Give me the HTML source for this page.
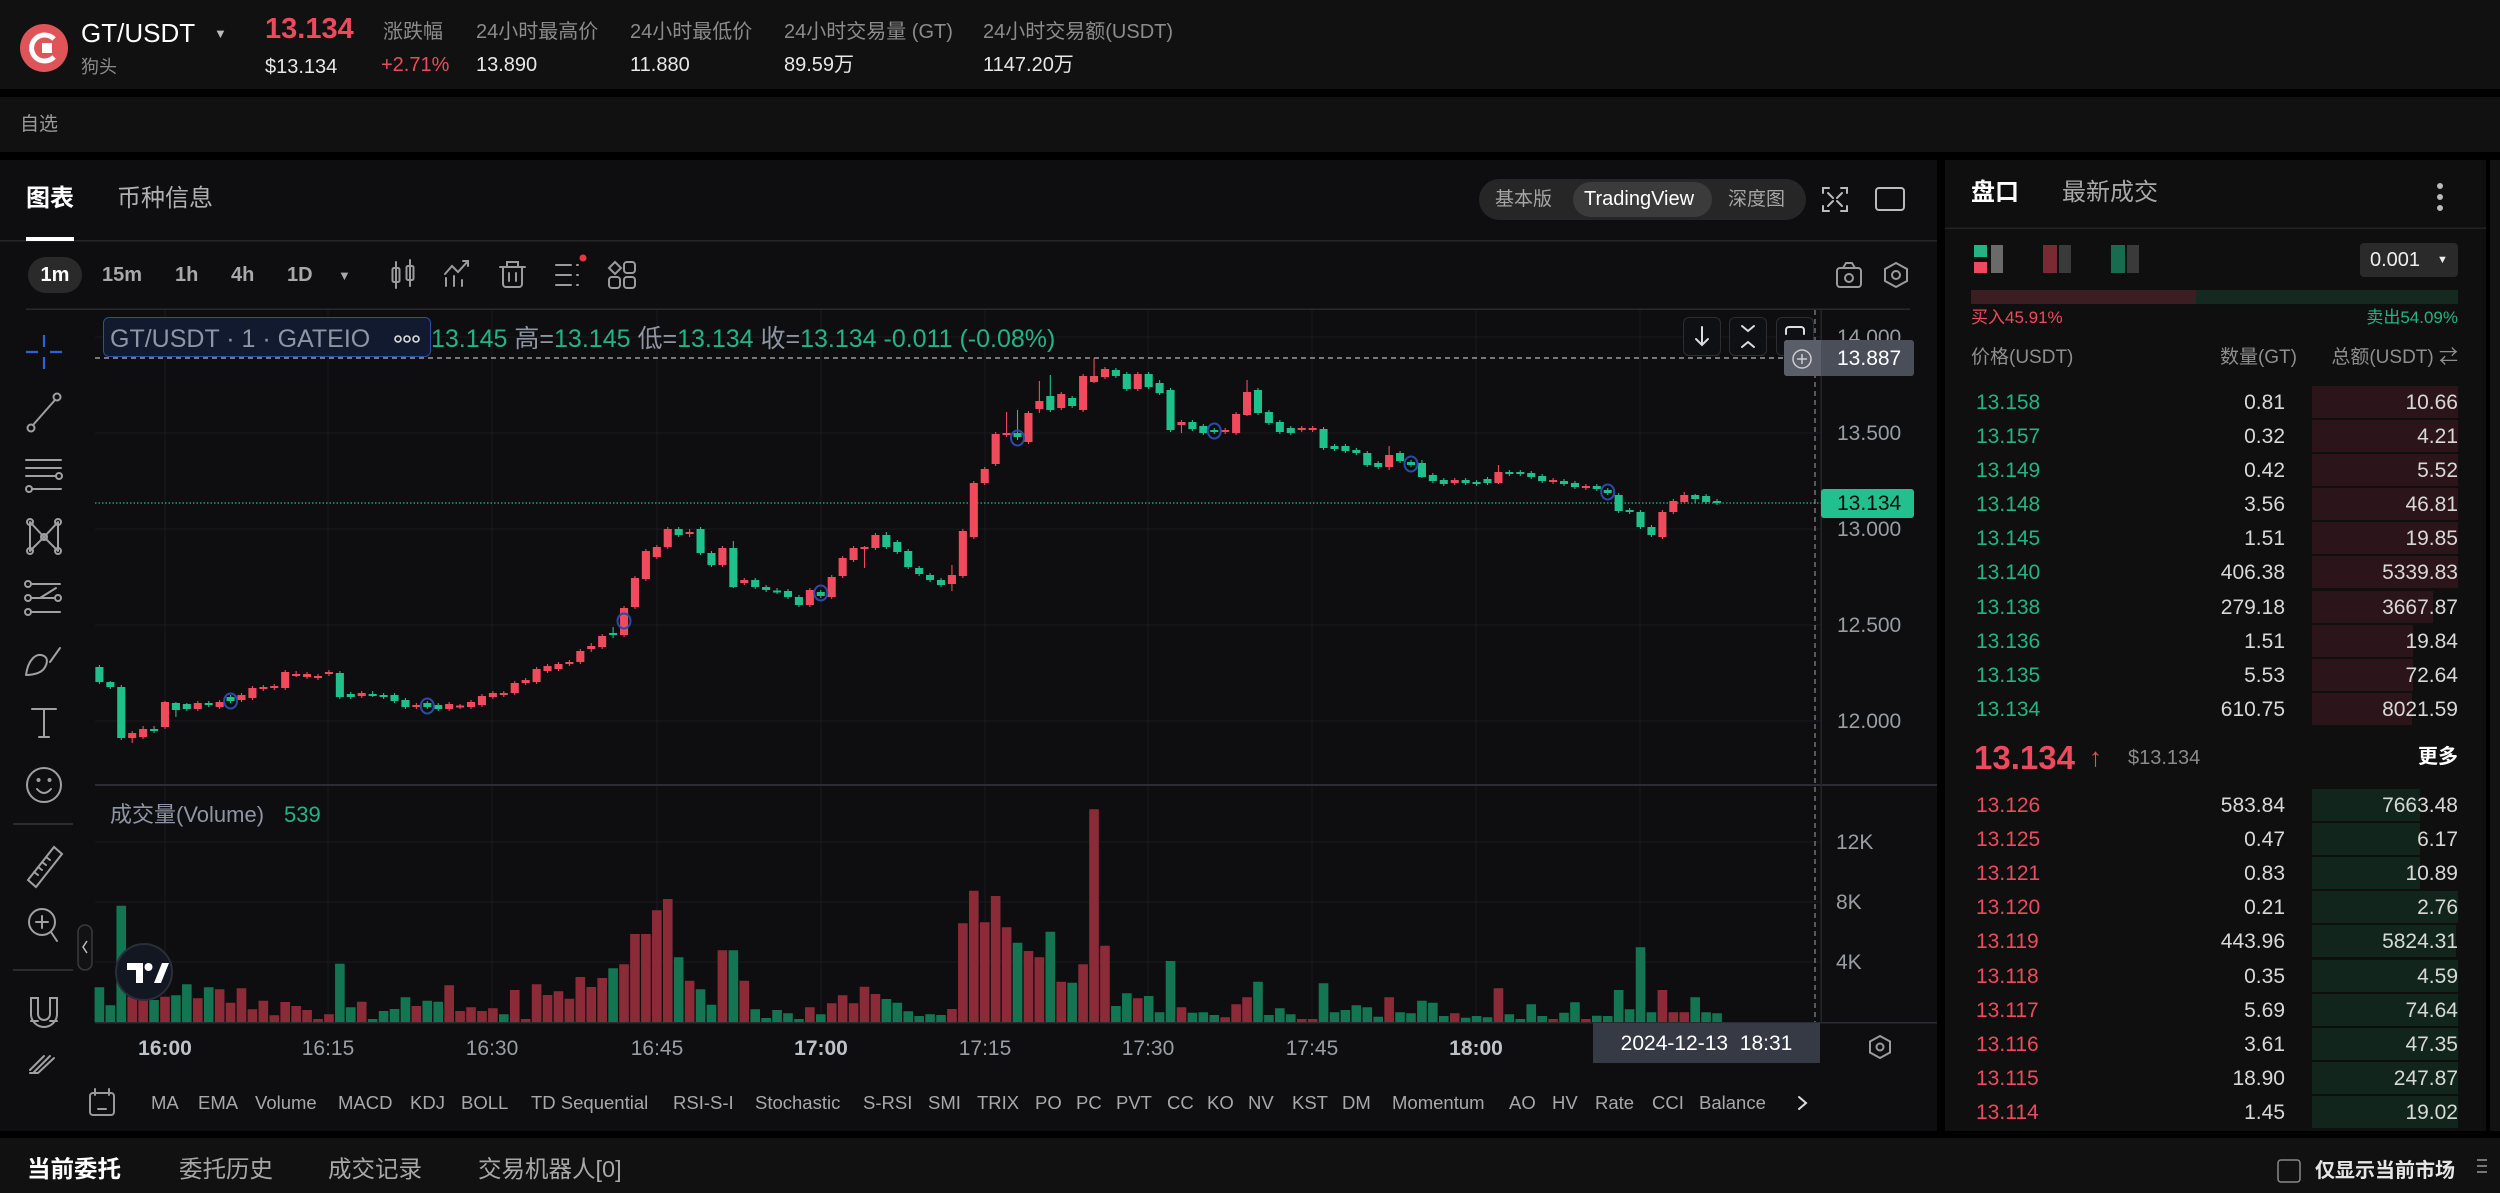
<!DOCTYPE html>
<html><head><meta charset="utf-8">
<style>
*{margin:0;padding:0;box-sizing:border-box}
html,body{width:2500px;height:1193px;overflow:hidden;background:#000}
body{position:relative;font-family:"Liberation Sans","Noto Sans CJK SC",sans-serif}
.b{position:absolute}
.t{position:absolute;white-space:nowrap;line-height:1}
.g{color:#22b583}.rd{color:#ee4a5d}.gy{color:#8e95a4}
.ax{font-size:21px;color:#9b9da5}
.ind{font-size:18.5px;color:#a8a8a8;top:1094px}
.ob{font-size:21px;line-height:1}
.q{color:#d8d8d8}
.tm{width:100px;text-align:center;top:1038px;font-size:21px;color:#9b9da5}
</style></head><body>
<!-- backgrounds -->
<div class="b" style="left:0;top:0;width:2500px;height:89px;background:#111111"></div>
<div class="b" style="left:0;top:97px;width:2500px;height:55px;background:#111111"></div>
<div class="b" style="left:0;top:160px;width:1937px;height:971px;background:#0e0e10"></div>
<div class="b" style="left:1945px;top:160px;width:541px;height:971px;background:#0f0f0f"></div>
<div class="b" style="left:2490px;top:160px;width:10px;height:971px;background:#121212"></div>
<div class="b" style="left:0;top:1138px;width:2500px;height:55px;background:#111111"></div>
<!-- segmented control -->
<div class="b" style="left:1479px;top:179px;width:327px;height:41px;background:#262626;border-radius:21px"></div>
<div class="b" style="left:1573px;top:182px;width:139px;height:35px;background:#3b3b3b;border-radius:18px"></div>
<div class="b" style="left:28px;top:257px;width:54px;height:36px;background:#2a2a2a;border-radius:18px"></div>
<!-- orderbook bars -->
<div class="b" style="left:2360px;top:243px;width:98px;height:34px;background:#2a2a2a;border-radius:4px"></div>
<div class="b" style="left:1971px;top:290px;width:225px;height:14px;background:#3b1d22"></div>
<div class="b" style="left:2196px;top:290px;width:262px;height:14px;background:#14291f"></div>
<div class="b" style="left:2312px;top:386px;width:146px;height:32px;background:#2b151a"></div>
<div class="b" style="left:2312px;top:420px;width:146px;height:32px;background:#2b151a"></div>
<div class="b" style="left:2312px;top:454px;width:146px;height:32px;background:#2b151a"></div>
<div class="b" style="left:2312px;top:488px;width:146px;height:32px;background:#2b151a"></div>
<div class="b" style="left:2312px;top:522px;width:146px;height:32px;background:#2b151a"></div>
<div class="b" style="left:2312px;top:556px;width:146px;height:32px;background:#2b151a"></div>
<div class="b" style="left:2312px;top:591px;width:121px;height:32px;background:#2b151a"></div>
<div class="b" style="left:2312px;top:625px;width:101px;height:32px;background:#2b151a"></div>
<div class="b" style="left:2312px;top:659px;width:101px;height:32px;background:#2b151a"></div>
<div class="b" style="left:2312px;top:693px;width:100px;height:32px;background:#2b151a"></div>
<div class="b" style="left:2312px;top:789px;width:108px;height:32px;background:#11251d"></div>
<div class="b" style="left:2312px;top:823px;width:108px;height:32px;background:#11251d"></div>
<div class="b" style="left:2312px;top:857px;width:108px;height:32px;background:#11251d"></div>
<div class="b" style="left:2312px;top:891px;width:146px;height:32px;background:#11251d"></div>
<div class="b" style="left:2312px;top:925px;width:144px;height:32px;background:#11251d"></div>
<div class="b" style="left:2312px;top:960px;width:146px;height:32px;background:#11251d"></div>
<div class="b" style="left:2312px;top:994px;width:146px;height:32px;background:#11251d"></div>
<div class="b" style="left:2312px;top:1028px;width:146px;height:32px;background:#11251d"></div>
<div class="b" style="left:2312px;top:1062px;width:146px;height:32px;background:#11251d"></div>
<div class="b" style="left:2312px;top:1096px;width:146px;height:32px;background:#11251d"></div>

<svg class="b" style="left:0;top:0" width="2500" height="1193" viewBox="0 0 2500 1193">
<!-- logo -->
<circle cx="44" cy="48" r="24" fill="#de5459"/>
<path d="M54 39 A13 13 0 1 0 54 57" fill="none" stroke="#fff" stroke-width="5"/>
<rect x="42" y="43" width="10" height="10" fill="#fff"/>
<!-- separators -->
<rect x="0" y="240" width="1937" height="1.5" fill="#252527"/>
<rect x="26" y="237" width="48" height="4" fill="#fff"/>
<rect x="26" y="308.5" width="1884" height="1.5" fill="#2a2a2e"/>
<rect x="1945" y="227.5" width="541" height="1.5" fill="#232323"/>
<!-- grid -->
<g stroke="#1a1b20" stroke-width="1">
<path d="M95 337H1821M95 433H1821M95 529H1821M95 625H1821M95 721H1821M95 842H1821M95 902H1821M95 962H1821"/>
<path d="M165 310V1022M328 310V1022M492 310V1022M657 310V1022M821 310V1022M985 310V1022M1148 310V1022M1312 310V1022M1476 310V1022M1640 310V1022"/>
</g>
<rect x="95" y="784" width="1842" height="2" fill="#2b2c35"/>
<rect x="95" y="1022" width="1842" height="1.5" fill="#2a2b33"/>
<rect x="1820.5" y="310" width="1.5" height="713" fill="#24252c"/>
<!-- volume -->
<g transform="translate(99.4 0) scale(10.93 1)">
<path fill="#8c2b38" d="M2.56 996.7h.88V1022h-.88zM3.56 1000h.88V1022h-.88zM5.56 996.7h.88V1022h-.88zM8.56 998.3h.88V1022h-.88zM10.56 989.3h.88V1022h-.88zM11.56 1002.7h.88V1022h-.88zM12.56 988.3h.88V1022h-.88zM13.56 1009.3h.88V1022h-.88zM14.56 1000.7h.88V1022h-.88zM15.56 1015.3h.88V1022h-.88zM16.56 1002h.88V1022h-.88zM17.56 1006h.88V1022h-.88zM18.56 1010h.88V1022h-.88zM19.56 1019h.88V1022h-.88zM20.56 1014.3h.88V1022h-.88zM23.56 1001.7h.88V1022h-.88zM28.56 1006h.88V1022h-.88zM31.56 985.3h.88V1022h-.88zM32.56 1011h.88V1022h-.88zM33.56 1007.3h.88V1022h-.88zM34.56 1011h.88V1022h-.88zM35.56 1008.3h.88V1022h-.88zM37.56 990h.88V1022h-.88zM38.56 1019h.88V1022h-.88zM39.56 984.3h.88V1022h-.88zM40.56 995h.88V1022h-.88zM41.56 991.3h.88V1022h-.88zM42.56 998.7h.88V1022h-.88zM43.56 977h.88V1022h-.88zM44.56 987h.88V1022h-.88zM45.56 978h.88V1022h-.88zM47.56 964.3h.88V1022h-.88zM48.56 934h.88V1022h-.88zM49.56 934h.88V1022h-.88zM50.56 910.3h.88V1022h-.88zM51.56 899h.88V1022h-.88zM53.56 980.7h.88V1022h-.88zM56.56 950.3h.88V1022h-.88zM58.56 980.7h.88V1022h-.88zM64.56 1007.3h.88V1022h-.88zM66.56 1003.3h.88V1022h-.88zM67.56 995.3h.88V1022h-.88zM68.56 1003.3h.88V1022h-.88zM69.56 986.7h.88V1022h-.88zM70.56 994h.88V1022h-.88zM77.56 1009h.88V1022h-.88zM78.56 923.3h.88V1022h-.88zM79.56 890.7h.88V1022h-.88zM80.56 922.3h.88V1022h-.88zM81.56 896h.88V1022h-.88zM82.56 927.3h.88V1022h-.88zM84.56 951h.88V1022h-.88zM85.56 957.3h.88V1022h-.88zM87.56 981.7h.88V1022h-.88zM89.56 964.3h.88V1022h-.88zM90.56 809.3h.88V1022h-.88zM91.56 945.7h.88V1022h-.88zM94.56 998.3h.88V1022h-.88zM98.56 1007.3h.88V1022h-.88zM102.56 1017.3h.88V1022h-.88zM103.56 1004.3h.88V1022h-.88zM104.56 997.3h.88V1022h-.88zM109.56 1019h.88V1022h-.88zM110.56 1019h.88V1022h-.88zM117.56 997.3h.88V1022h-.88zM123.56 1013.3h.88V1022h-.88zM127.56 988.3h.88V1022h-.88zM132.56 1019h.88V1022h-.88zM135.56 1019h.88V1022h-.88zM142.56 990h.88V1022h-.88zM143.56 1012.3h.88V1022h-.88zM144.56 1012.3h.88V1022h-.88z"/>
<path fill="#137552" d="M-.44 987.3h.88V1022h-.88zM.56 1005.3h.88V1022h-.88zM1.56 905.7h.88V1022h-.88zM4.56 1000h.88V1022h-.88zM6.56 995.3h.88V1022h-.88zM7.56 984.3h.88V1022h-.88zM9.56 987.3h.88V1022h-.88zM21.56 963.7h.88V1022h-.88zM22.56 1007.3h.88V1022h-.88zM24.56 1019h.88V1022h-.88zM25.56 1011h.88V1022h-.88zM26.56 1009h.88V1022h-.88zM27.56 997.3h.88V1022h-.88zM29.56 1000.7h.88V1022h-.88zM30.56 1001.7h.88V1022h-.88zM36.56 1014.3h.88V1022h-.88zM46.56 968.3h.88V1022h-.88zM52.56 957.3h.88V1022h-.88zM54.56 989.3h.88V1022h-.88zM55.56 1004.7h.88V1022h-.88zM57.56 950.3h.88V1022h-.88zM59.56 1009.3h.88V1022h-.88zM60.56 1018h.88V1022h-.88zM61.56 1010h.88V1022h-.88zM62.56 1013.3h.88V1022h-.88zM63.56 1019h.88V1022h-.88zM65.56 1014.3h.88V1022h-.88zM71.56 999h.88V1022h-.88zM72.56 1002.7h.88V1022h-.88zM73.56 1011.3h.88V1022h-.88zM74.56 1016h.88V1022h-.88zM75.56 1014.3h.88V1022h-.88zM76.56 1015h.88V1022h-.88zM83.56 942.7h.88V1022h-.88zM86.56 931.7h.88V1022h-.88zM88.56 982.7h.88V1022h-.88zM92.56 1006h.88V1022h-.88zM93.56 993.3h.88V1022h-.88zM95.56 996h.88V1022h-.88zM96.56 1012.3h.88V1022h-.88zM97.56 961h.88V1022h-.88zM99.56 1012.7h.88V1022h-.88zM100.56 1012.3h.88V1022h-.88zM101.56 1015h.88V1022h-.88zM105.56 981.7h.88V1022h-.88zM106.56 1015h.88V1022h-.88zM107.56 1008.3h.88V1022h-.88zM108.56 1014.3h.88V1022h-.88zM111.56 983.3h.88V1022h-.88zM112.56 1012.3h.88V1022h-.88zM113.56 1010h.88V1022h-.88zM114.56 1005.3h.88V1022h-.88zM115.56 1007.3h.88V1022h-.88zM116.56 1016.7h.88V1022h-.88zM118.56 1012.3h.88V1022h-.88zM119.56 1013.3h.88V1022h-.88zM120.56 1000.7h.88V1022h-.88zM121.56 1002.7h.88V1022h-.88zM122.56 1016h.88V1022h-.88zM124.56 1017.7h.88V1022h-.88zM125.56 1016h.88V1022h-.88zM126.56 1017.3h.88V1022h-.88zM128.56 1014.3h.88V1022h-.88zM129.56 1019h.88V1022h-.88zM130.56 1004.3h.88V1022h-.88zM131.56 1016h.88V1022h-.88zM133.56 1012.7h.88V1022h-.88zM134.56 1002.3h.88V1022h-.88zM136.56 1015.7h.88V1022h-.88zM137.56 1016h.88V1022h-.88zM138.56 990h.88V1022h-.88zM139.56 1009.3h.88V1022h-.88zM140.56 947.3h.88V1022h-.88zM141.56 1012.3h.88V1022h-.88zM145.56 997.3h.88V1022h-.88zM146.56 1012.3h.88V1022h-.88zM147.56 1013.3h.88V1022h-.88z"/>
</g>
<!-- lines -->
<path d="M95 358H1784" stroke="#9a9a9a" stroke-width="1.5" stroke-dasharray="5 4"/>
<path d="M95 503H1821" stroke="#1f9c77" stroke-width="1.5" stroke-dasharray="1.5 2"/>
<path d="M1815 310V1022" stroke="#8a8a8a" stroke-width="1.2" stroke-dasharray="5 4"/>
<!-- candles -->
<g transform="translate(99.4 0) scale(10.93 1)">
<path fill="#f04a5d" d="M2.95 731h.1V743h-.1zM2.63 733h.74V738h-.74zM3.95 726h.1V739h-.1zM3.63 729h.74V737h-.74zM5.95 701h.1V729h-.1zM5.63 702h.74V727h-.74zM8.95 701h.1V711h-.1zM8.63 703h.74V709h-.74zM10.95 700h.1V709h-.1zM10.63 702h.74V707h-.74zM12.95 693h.1V702h-.1zM12.63 695h.74V700h-.74zM13.95 686h.1V700h-.1zM13.63 688h.74V698h-.74zM14.95 685h.1V691h-.1zM14.63 687h.74V689h-.74zM15.95 684h.1V690h-.1zM15.63 686h.74V688h-.74zM16.95 670h.1V690h-.1zM16.63 672h.74V688h-.74zM17.95 671h.1V677h-.1zM17.63 674h.74V676h-.74zM18.95 672h.1V679h-.1zM18.63 674h.74V677h-.74zM19.95 674h.1V680h-.1zM19.63 676h.74V678h-.74zM20.95 670h.1V676h-.1zM20.63 672h.74V674h-.74zM23.95 691h.1V698h-.1zM23.63 693h.74V696h-.74zM28.95 703h.1V709h-.1zM28.63 705h.74V707h-.74zM31.95 702h.1V711h-.1zM31.63 704h.74V709h-.74zM32.95 704h.1V709h-.1zM32.63 705.5h.74V707.5h-.74zM33.95 700h.1V709h-.1zM33.63 702h.74V707h-.74zM34.95 694h.1V707h-.1zM34.63 696h.74V705h-.74zM35.95 691h.1V699h-.1zM35.63 693h.74V697h-.74zM36.95 691h.1V697h-.1zM36.63 693h.74V695h-.74zM37.95 681h.1V695h-.1zM37.63 683h.74V693h-.74zM38.95 678h.1V685h-.1zM38.63 680h.74V683h-.74zM39.95 667h.1V684h-.1zM39.63 669h.74V682h-.74zM40.95 664h.1V673h-.1zM40.63 666h.74V671h-.74zM41.95 662h.1V671h-.1zM41.63 664h.74V669h-.74zM42.95 660h.1V666h-.1zM42.63 662h.74V664h-.74zM43.95 649h.1V664h-.1zM43.63 651h.74V662h-.74zM44.95 643h.1V652h-.1zM44.63 646h.74V649h-.74zM45.95 634h.1V649h-.1zM45.63 636h.74V647h-.74zM47.95 606h.1V637h-.1zM47.63 608h.74V635h-.74zM48.95 576h.1V609h-.1zM48.63 578h.74V607h-.74zM49.95 549h.1V581h-.1zM49.63 551h.74V579h-.74zM50.95 545h.1V559h-.1zM50.63 547h.74V557h-.74zM51.95 527h.1V549h-.1zM51.63 529h.74V547h-.74zM53.95 529h.1V537h-.1zM53.63 532h.74V534h-.74zM56.95 546h.1V567h-.1zM56.63 548h.74V565h-.74zM58.95 578h.1V585h-.1zM58.63 580h.74V583h-.74zM64.95 588h.1V607h-.1zM64.63 590h.74V605h-.74zM66.95 575h.1V599h-.1zM66.63 577h.74V597h-.74zM67.95 556h.1V578h-.1zM67.63 558h.74V576h-.74zM68.95 546h.1V562h-.1zM68.63 548h.74V560h-.74zM69.95 546h.1V568h-.1zM69.63 547h.74V549h-.74zM70.95 533h.1V550h-.1zM70.63 535h.74V548h-.74zM77.95 565h.1V591h-.1zM77.63 575h.74V584h-.74zM78.95 529h.1V578h-.1zM78.63 531h.74V576h-.74zM79.95 481h.1V539h-.1zM79.63 483h.74V537h-.74zM80.95 467h.1V485h-.1zM80.63 469h.74V483h-.74zM81.95 432h.1V466h-.1zM81.63 434h.74V464h-.74zM82.95 412h.1V437h-.1zM82.63 433h.74V435h-.74zM84.95 411h.1V444h-.1zM84.63 413h.74V442h-.74zM85.95 381h.1V413h-.1zM85.63 401h.74V409h-.74zM87.95 392h.1V410h-.1zM87.63 394h.74V408h-.74zM89.95 374h.1V412h-.1zM89.63 376h.74V410h-.74zM90.95 358h.1V383h-.1zM90.63 376h.74V382h-.74zM91.95 367h.1V379h-.1zM91.63 369h.74V377h-.74zM94.95 372h.1V391h-.1zM94.63 374h.74V389h-.74zM98.95 420h.1V433h-.1zM98.63 422h.74V425h-.74zM102.95 428h.1V434h-.1zM102.63 430h.74V432h-.74zM103.95 412h.1V435h-.1zM103.63 414h.74V433h-.74zM104.95 380h.1V416h-.1zM104.63 392h.74V415h-.74zM109.95 426h.1V432h-.1zM109.63 428h.74V430h-.74zM110.95 426h.1V432h-.1zM110.63 428h.74V430h-.74zM117.95 446h.1V470h-.1zM117.63 455h.74V467h-.74zM123.95 478h.1V485h-.1zM123.63 480h.74V483h-.74zM127.95 465h.1V484h-.1zM127.63 472h.74V483h-.74zM132.95 478h.1V484h-.1zM132.63 480h.74V482h-.74zM135.95 484h.1V490h-.1zM135.63 486h.74V488h-.74zM142.95 510h.1V539h-.1zM142.63 512h.74V537h-.74zM143.95 499h.1V514h-.1zM143.63 501h.74V512h-.74zM144.95 492h.1V503h-.1zM144.63 495h.74V502h-.74z"/>
<path fill="#20c08b" d="M-.05 665h.1V684h-.1zM-.37 667h.74V682h-.74zM.95 681h.1V689h-.1zM.63 682h.74V687h-.74zM1.95 685h.1V740h-.1zM1.63 687h.74V738h-.74zM4.95 726h.1V733h-.1zM4.63 729h.74V731h-.74zM6.95 702h.1V717h-.1zM6.63 703h.74V710h-.74zM7.95 703h.1V711h-.1zM7.63 704h.74V709h-.74zM9.95 701h.1V707h-.1zM9.63 703h.74V705h-.74zM11.95 695h.1V703h-.1zM11.63 697h.74V701h-.74zM21.95 671h.1V699h-.1zM21.63 673h.74V697h-.74zM22.95 692h.1V699h-.1zM22.63 694h.74V697h-.74zM24.95 691h.1V697h-.1zM24.63 694h.74V696h-.74zM25.95 693h.1V699h-.1zM25.63 695h.74V697h-.74zM26.95 693h.1V703h-.1zM26.63 695h.74V701h-.74zM27.95 698h.1V709h-.1zM27.63 700h.74V707h-.74zM29.95 701h.1V709h-.1zM29.63 703h.74V707h-.74zM30.95 703h.1V711h-.1zM30.63 705h.74V709h-.74zM46.95 627h.1V638h-.1zM46.63 633h.74V635h-.74zM52.95 527h.1V537h-.1zM52.63 529h.74V535h-.74zM54.95 527h.1V555h-.1zM54.63 529h.74V553h-.74zM55.95 551h.1V567h-.1zM55.63 553h.74V565h-.74zM57.95 541h.1V588h-.1zM57.63 548h.74V587h-.74zM59.95 578h.1V589h-.1zM59.63 580h.74V587h-.74zM60.95 585h.1V592h-.1zM60.63 587h.74V590h-.74zM61.95 588h.1V594h-.1zM61.63 590.5h.74V592.5h-.74zM62.95 589h.1V599h-.1zM62.63 591h.74V597h-.74zM63.95 595h.1V607h-.1zM63.63 597h.74V605h-.74zM65.95 590h.1V598h-.1zM65.63 592h.74V596h-.74zM71.95 532h.1V549h-.1zM71.63 535h.74V547h-.74zM72.95 540h.1V554h-.1zM72.63 542h.74V552h-.74zM73.95 549h.1V569h-.1zM73.63 551h.74V567h-.74zM74.95 566h.1V576h-.1zM74.63 568h.74V574h-.74zM75.95 573h.1V582h-.1zM75.63 575h.74V580h-.74zM76.95 578h.1V587h-.1zM76.63 580h.74V585h-.74zM83.95 410h.1V440h-.1zM83.63 433h.74V437h-.74zM86.95 375h.1V412h-.1zM86.63 396h.74V410h-.74zM88.95 396h.1V408h-.1zM88.63 398h.74V406h-.74zM92.95 368h.1V378h-.1zM92.63 370h.74V376h-.74zM93.95 372h.1V391h-.1zM93.63 374h.74V389h-.74zM95.95 372h.1V389h-.1zM95.63 374h.74V387h-.74zM96.95 380h.1V395h-.1zM96.63 383h.74V393h-.74zM97.95 388h.1V432h-.1zM97.63 390h.74V430h-.74zM99.95 420h.1V431h-.1zM99.63 422h.74V429h-.74zM100.95 424h.1V435h-.1zM100.63 426h.74V433h-.74zM101.95 428h.1V434h-.1zM101.63 430h.74V432h-.74zM105.95 388h.1V415h-.1zM105.63 390h.74V413h-.74zM106.95 410h.1V425h-.1zM106.63 412h.74V423h-.74zM107.95 420h.1V434h-.1zM107.63 422h.74V432h-.74zM108.95 426h.1V435h-.1zM108.63 428h.74V433h-.74zM111.95 427h.1V450h-.1zM111.63 429h.74V448h-.74zM112.95 444h.1V451h-.1zM112.63 446h.74V449h-.74zM113.95 444h.1V453h-.1zM113.63 446h.74V451h-.74zM114.95 448h.1V455h-.1zM114.63 450h.74V453h-.74zM115.95 451h.1V467h-.1zM115.63 453h.74V465h-.74zM116.95 461h.1V469h-.1zM116.63 463h.74V467h-.74zM118.95 451h.1V463h-.1zM118.63 453h.74V461h-.74zM119.95 460h.1V467h-.1zM119.63 462h.74V465h-.74zM120.95 460h.1V478h-.1zM120.63 463h.74V477h-.74zM121.95 473h.1V483h-.1zM121.63 475h.74V481h-.74zM122.95 478h.1V486h-.1zM122.63 480h.74V484h-.74zM124.95 478h.1V485h-.1zM124.63 480h.74V483h-.74zM125.95 480h.1V486h-.1zM125.63 482h.74V484h-.74zM126.95 477h.1V485h-.1zM126.63 479h.74V483h-.74zM128.95 470h.1V476h-.1zM128.63 472h.74V474h-.74zM129.95 470h.1V476h-.1zM129.63 472h.74V474h-.74zM130.95 471h.1V479h-.1zM130.63 473h.74V477h-.74zM131.95 474h.1V483h-.1zM131.63 476h.74V481h-.74zM133.95 479h.1V486h-.1zM133.63 481h.74V484h-.74zM134.95 481h.1V489h-.1zM134.63 483h.74V487h-.74zM136.95 484h.1V491h-.1zM136.63 486h.74V489h-.74zM137.95 488h.1V495h-.1zM137.63 490h.74V493h-.74zM138.95 493h.1V513h-.1zM138.63 495h.74V511h-.74zM139.95 508h.1V514h-.1zM139.63 510h.74V512h-.74zM140.95 510h.1V529h-.1zM140.63 512h.74V527h-.74zM141.95 525h.1V537h-.1zM141.63 527h.74V535h-.74zM145.95 494h.1V503h-.1zM145.63 495h.74V499h-.74zM146.95 494h.1V504h-.1zM146.63 496h.74V502h-.74zM147.95 499h.1V505h-.1zM147.63 501h.74V503h-.74z"/>
</g>
<!-- markers -->
<g fill="none" stroke="#2b4aa8" stroke-width="2">
<ellipse cx="230.6" cy="701" rx="6.5" ry="7.5"/><ellipse cx="427.3" cy="706" rx="6.5" ry="7.5"/><ellipse cx="624" cy="621" rx="6.5" ry="7.5"/><ellipse cx="820.8" cy="593" rx="6.5" ry="7.5"/><ellipse cx="1017.5" cy="438" rx="6.5" ry="7.5"/><ellipse cx="1214.3" cy="431" rx="6.5" ry="7.5"/><ellipse cx="1411" cy="464" rx="6.5" ry="7.5"/><ellipse cx="1607.7" cy="492" rx="6.5" ry="7.5"/>
</g>
<!-- toolbar icons -->
<g fill="none" stroke="#9b9b9b" stroke-width="2" stroke-linecap="round">
<path d="M396 262V288M410 260V286"/><rect x="392.5" y="268" width="7" height="14" rx="1.5"/><rect x="406.5" y="266" width="7" height="14" rx="1.5"/>
<path d="M446 286V278M454 286V276M462 286V280M445 274L452 266L458 272L468 261M463 261H468V266"/>
<path d="M500 267H525M507 267V262H518V267M503 267V284a3 3 0 0 0 3 3H519a3 3 0 0 0 3-3V267M509 273V281M516 273V281"/>
<path d="M556 265H571M556 275H571M556 285H571M577 265H578M577 275H578M577 285H578"/>
<path d="M615 262L621 268L615 274L609 268Z"/><rect x="624" y="262" width="11" height="11" rx="3"/><rect x="609" y="277" width="11" height="11" rx="3"/><rect x="624" y="277" width="11" height="11" rx="3"/>
<rect x="1837" y="268" width="24" height="19" rx="3"/><path d="M1843 268L1846 263H1852L1855 268"/><circle cx="1849" cy="278" r="4"/>
<path d="M1896 263L1907 269V281L1896 287L1885 281V269Z"/><circle cx="1896" cy="275" r="4"/>
<path d="M1880 1036L1890 1041.5V1052.5L1880 1058L1870 1052.5V1041.5Z"/><circle cx="1880" cy="1047" r="3.5"/>
<path d="M1823 193V188H1829M1841 188H1847V193M1847 206V211H1841M1829 211H1823V206M1828 193L1833 198M1842 193L1837 198M1828 206L1833 201M1842 206L1837 201" stroke="#bbb"/>
<rect x="1876" y="188" width="28" height="22" rx="3" stroke="#bbb"/>
<path d="M1799 1097L1806 1103L1799 1109" stroke="#ddd"/>
<rect x="90" y="1093" width="24" height="22" rx="3" stroke="#999"/><path d="M95 1089V1095M109 1089V1095M98 1109H106" stroke="#999"/>
<circle cx="2440" cy="186" r="1.5" stroke="#bbb" stroke-width="3"/><circle cx="2440" cy="197" r="1.5" stroke="#bbb" stroke-width="3"/><circle cx="2440" cy="208" r="1.5" stroke="#bbb" stroke-width="3"/>
</g>
<circle cx="583" cy="258" r="3.5" fill="#f0343f"/>
<!-- left drawing toolbar -->
<g fill="none" stroke="#2f62d9" stroke-width="2.2"><path d="M44 335V347M44 357V369M26 352H38M50 352H62"/></g>
<g fill="none" stroke="#a0a0a0" stroke-width="2" stroke-linecap="round">
<path d="M33 425L55 400"/><circle cx="31" cy="428" r="3.5"/><circle cx="57" cy="397" r="3.5"/>
<path d="M26 460H61M26 468H61M26 476H55M33 489H61"/><circle cx="59" cy="476" r="3"/><circle cx="29" cy="489" r="3"/>
<path d="M30 522L44 537L58 522M30 551L44 537L58 551M30 522V551M58 522V551"/><circle cx="30" cy="522" r="3"/><circle cx="58" cy="522" r="3"/><circle cx="30" cy="551" r="3"/><circle cx="58" cy="551" r="3"/><circle cx="44" cy="537" r="3"/>
<path d="M32 584H60M32 598H54M32 612H60M40 598L56 588" /><circle cx="28" cy="584" r="3"/><circle cx="28" cy="598" r="3"/><circle cx="58" cy="598" r="3"/><circle cx="28" cy="612" r="3"/>
<path d="M26 675C28 660 36 652 44 656C50 659 46 670 38 673C32 675 28 675 26 675M50 662L60 648"/>
<path d="M32 709H56M44 709V737M39 737H49"/>
<circle cx="44" cy="785" r="17"/><path d="M37 789Q44 797 51 789"/><circle cx="38.5" cy="780" r="1" fill="#a0a0a0"/><circle cx="49.5" cy="780" r="1" fill="#a0a0a0"/>
<path d="M28 880L54 847L62 854L36 887Z M34 872L38 875M38 867L42 870M42 862L46 865M46 857L50 860"/>
<circle cx="42" cy="922" r="13"/><path d="M51 932L57 941M36 922H48M42 916V928"/>
<path d="M31 998V1014a13 13 0 0 0 26 0V998H50V1014a6 6 0 0 1 -12 0V998Z M31 1021H38M50 1021H57"/>
<path d="M30 1070L44 1056M34 1072L50 1056M38 1073L54 1058M30 1073H38"/>
</g>
<rect x="13" y="823" width="60" height="2" fill="#2c2c2c"/><rect x="13" y="969" width="60" height="2" fill="#2c2c2c"/>
<rect x="78" y="925" width="14" height="45" rx="7" fill="#121214" stroke="#3a3a3a" stroke-width="1.5"/>
<path d="M87 941L83 947L87 953" fill="none" stroke="#bbb" stroke-width="1.5"/>
<!-- TV logo -->
<circle cx="144" cy="972" r="28" fill="#131722" stroke="#2a2e39" stroke-width="2"/>
<path d="M127 963H143V983H136V970H127Z" fill="#fff"/><circle cx="148.5" cy="967" r="4" fill="#fff"/><path d="M154 983L162 963H169L161 983Z" fill="#fff"/>
<!-- orderbook icons -->
<rect x="1974" y="245" width="13" height="12" fill="#22b583"/><rect x="1974" y="262" width="13" height="11" fill="#ee4a5d"/><rect x="1991" y="245" width="12" height="28" fill="#6a6a6a"/>
<rect x="2043" y="245" width="14" height="28" fill="#7a2a33"/><rect x="2059" y="245" width="12" height="28" fill="#3a3a3a"/>
<rect x="2111" y="245" width="14" height="28" fill="#176b4e"/><rect x="2127" y="245" width="12" height="28" fill="#3a3a3a"/>
<!-- checkbox -->
<rect x="2278" y="1160" width="22" height="22" rx="3" fill="none" stroke="#888" stroke-width="1.5"/>
<path d="M2477 1160H2487M2477 1166H2487M2477 1172H2487" stroke="#777" stroke-width="2"/>
<!-- legend dots -->
<g fill="none" stroke="#ddd" stroke-width="1.6"><circle cx="398" cy="339" r="3"/><circle cx="407" cy="339" r="3"/><circle cx="416" cy="339" r="3"/></g>
</svg>

<!-- legend box -->
<div class="b" style="left:103px;top:317px;width:328px;height:40px;background:#111a2e;border:1.5px solid #2c4fa3;border-radius:6px"></div>
<svg class="b" style="left:390px;top:330px" width="36" height="18"><g fill="none" stroke="#ddd" stroke-width="1.6"><circle cx="8" cy="9" r="3"/><circle cx="17" cy="9" r="3"/><circle cx="26" cy="9" r="3"/></g></svg>

<!-- header text -->
<div class="t" style="left:81px;top:20px;font-size:26px;color:#fff">GT/USDT</div>
<div class="t" style="left:214px;top:27px;font-size:13px;color:#bbb">▼</div>
<div class="t" style="left:81px;top:58px;font-size:18px;color:#8a8a8a">狗头</div>
<div class="t rd" style="left:265px;top:15px;font-size:29px;font-weight:bold">13.134</div>
<div class="t" style="left:265px;top:57px;font-size:20px;color:#e6e6e6">$13.134</div>
<div class="t" style="left:383px;top:22px;font-size:20px;color:#8b8b8b">涨跌幅</div>
<div class="t" style="left:476px;top:22px;font-size:20px;color:#8b8b8b">24小时最高价</div>
<div class="t" style="left:630px;top:22px;font-size:20px;color:#8b8b8b">24小时最低价</div>
<div class="t" style="left:784px;top:22px;font-size:20px;color:#8b8b8b">24小时交易量 (GT)</div>
<div class="t" style="left:983px;top:22px;font-size:20px;color:#8b8b8b">24小时交易额(USDT)</div>
<div class="t rd" style="left:381px;top:55px;font-size:20px">+2.71%</div>
<div class="t" style="left:476px;top:55px;font-size:20px;color:#e8e8e8">13.890</div>
<div class="t" style="left:630px;top:55px;font-size:20px;color:#e8e8e8">11.880</div>
<div class="t" style="left:784px;top:55px;font-size:20px;color:#e8e8e8">89.59万</div>
<div class="t" style="left:983px;top:55px;font-size:20px;color:#e8e8e8">1147.20万</div>
<div class="t" style="left:20px;top:115px;font-size:19px;color:#9a9a9a">自选</div>

<!-- tabs -->
<div class="t" style="left:26px;top:187px;font-size:24px;color:#fff;font-weight:bold">图表</div>
<div class="t" style="left:117px;top:187px;font-size:24px;color:#b0b0b0">币种信息</div>
<div class="t" style="left:1495px;top:190px;font-size:19px;color:#a5a5a5">基本版</div>
<div class="t" style="left:1584px;top:189px;font-size:20px;color:#fff">TradingView</div>
<div class="t" style="left:1728px;top:190px;font-size:19px;color:#a5a5a5">深度图</div>

<!-- interval toolbar -->
<div class="t" style="left:28px;width:54px;text-align:center;top:265px;font-size:20px;color:#fff;font-weight:bold">1m</div>
<div class="t" style="left:102px;top:265px;font-size:20px;color:#a8a8a8;font-weight:bold">15m</div>
<div class="t" style="left:175px;top:265px;font-size:20px;color:#a8a8a8;font-weight:bold">1h</div>
<div class="t" style="left:231px;top:265px;font-size:20px;color:#a8a8a8;font-weight:bold">4h</div>
<div class="t" style="left:287px;top:265px;font-size:20px;color:#a8a8a8;font-weight:bold">1D</div>
<div class="t" style="left:338px;top:269px;font-size:13px;color:#a8a8a8">▼</div>

<!-- legend -->
<div class="t gy" style="left:110px;top:327px;font-size:25px">GT/USDT · 1 · GATEIO</div>
<div class="t g" style="left:431px;top:327px;font-size:25px">13.145 <span class="gy">高=</span>13.145 <span class="gy">低=</span>13.134 <span class="gy">收=</span>13.134 -0.011 (-0.08%)</div>

<!-- price axis -->
<div class="t ax" style="left:1837px;top:327px">14.000</div>
<div class="t ax" style="left:1837px;top:423px">13.500</div>
<div class="t ax" style="left:1837px;top:519px">13.000</div>
<div class="t ax" style="left:1837px;top:615px">12.500</div>
<div class="t ax" style="left:1837px;top:711px">12.000</div>
<div class="t ax" style="left:1836px;top:832px">12K</div>
<div class="t ax" style="left:1836px;top:892px">8K</div>
<div class="t ax" style="left:1836px;top:952px">4K</div>

<!-- overlay buttons -->
<div class="b" style="left:1683px;top:317px;width:38px;height:39px;background:#0f1014;border:1px solid #2c2d33;border-radius:6px"></div>
<div class="b" style="left:1729px;top:317px;width:38px;height:39px;background:#0f1014;border:1px solid #2c2d33;border-radius:6px"></div>
<div class="b" style="left:1776px;top:317px;width:38px;height:39px;background:#0f1014;border:1px solid #2c2d33;border-radius:6px"></div>
<svg class="b" style="left:1680px;top:315px" width="140" height="45"><g fill="none" stroke="#ddd" stroke-width="2" stroke-linecap="round">
<path d="M22 12V30M16 24L22 30L28 24"/><path d="M62 11L68 16L74 11M62 32L68 27L74 32"/><path d="M106 19V15a3 3 0 0 1 3-3H121a3 3 0 0 1 3 3V19"/></g></svg>

<!-- price labels -->
<div class="b" style="left:1784px;top:340px;width:130px;height:36px;background:#4a4e58;border-radius:3px"></div>
<div class="b" style="left:1784px;top:340px;width:37px;height:36px;background:#5a5e68;border-radius:3px 0 0 3px"></div>
<svg class="b" style="left:1790px;top:347px" width="24" height="24"><circle cx="12" cy="12" r="9" fill="none" stroke="#ccc" stroke-width="1.5"/><path d="M12 7V17M7 12H17" stroke="#ccc" stroke-width="1.5"/></svg>
<div class="t" style="left:1837px;top:348px;font-size:21px;color:#fff">13.887</div>
<div class="b" style="left:1821px;top:489px;width:93px;height:29px;background:#22c08e;border-radius:3px"></div>
<div class="t" style="left:1837px;top:493px;font-size:21px;color:#0b0b0b">13.134</div>

<!-- volume label -->
<div class="t gy" style="left:110px;top:804px;font-size:22px">成交量(Volume)</div>
<div class="t g" style="left:284px;top:804px;font-size:22px">539</div>

<!-- time axis -->
<div class="t tm" style="left:115px;font-weight:bold;color:#bfc1c8">16:00</div>
<div class="t tm" style="left:278px">16:15</div>
<div class="t tm" style="left:442px">16:30</div>
<div class="t tm" style="left:607px">16:45</div>
<div class="t tm" style="left:771px;font-weight:bold;color:#bfc1c8">17:00</div>
<div class="t tm" style="left:935px">17:15</div>
<div class="t tm" style="left:1098px">17:30</div>
<div class="t tm" style="left:1262px">17:45</div>
<div class="t tm" style="left:1426px;font-weight:bold;color:#bfc1c8">18:00</div>
<div class="b" style="left:1593px;top:1023px;width:227px;height:40px;background:#363a45"></div>
<div class="t" style="left:1593px;width:227px;text-align:center;top:1033px;font-size:21px;color:#fff">2024-12-13&nbsp;&nbsp;18:31</div>

<!-- indicators bar -->
<div class="t ind" style="left:151px">MA</div>
<div class="t ind" style="left:198px">EMA</div>
<div class="t ind" style="left:255px">Volume</div>
<div class="t ind" style="left:338px">MACD</div>
<div class="t ind" style="left:410px">KDJ</div>
<div class="t ind" style="left:461px">BOLL</div>
<div class="t ind" style="left:531px">TD Sequential</div>
<div class="t ind" style="left:673px">RSI-S-I</div>
<div class="t ind" style="left:755px">Stochastic</div>
<div class="t ind" style="left:863px">S-RSI</div>
<div class="t ind" style="left:928px">SMI</div>
<div class="t ind" style="left:977px">TRIX</div>
<div class="t ind" style="left:1035px">PO</div>
<div class="t ind" style="left:1076px">PC</div>
<div class="t ind" style="left:1116px">PVT</div>
<div class="t ind" style="left:1167px">CC</div>
<div class="t ind" style="left:1207px">KO</div>
<div class="t ind" style="left:1248px">NV</div>
<div class="t ind" style="left:1292px">KST</div>
<div class="t ind" style="left:1342px">DM</div>
<div class="t ind" style="left:1392px">Momentum</div>
<div class="t ind" style="left:1509px">AO</div>
<div class="t ind" style="left:1552px">HV</div>
<div class="t ind" style="left:1595px">Rate</div>
<div class="t ind" style="left:1652px">CCI</div>
<div class="t ind" style="left:1699px">Balance</div>

<!-- bottom tabs -->
<div class="t" style="left:27px;top:1158px;font-size:23.5px;color:#fff;font-weight:bold">当前委托</div>
<div class="t" style="left:179px;top:1158px;font-size:23.5px;color:#a8a8a8">委托历史</div>
<div class="t" style="left:328px;top:1158px;font-size:23.5px;color:#a8a8a8">成交记录</div>
<div class="t" style="left:478px;top:1158px;font-size:23.5px;color:#a8a8a8">交易机器人[0]</div>
<div class="t" style="left:2315px;top:1161px;font-size:20px;color:#e6e6e6;font-weight:bold">仅显示当前市场</div>

<!-- orderbook text -->
<div class="t" style="left:1971px;top:181px;font-size:24px;color:#fff;font-weight:bold">盘口</div>
<div class="t" style="left:2062px;top:181px;font-size:24px;color:#a8a8a8">最新成交</div>
<div class="t" style="left:2370px;top:250px;font-size:20px;color:#eee">0.001</div>
<div class="t" style="left:2437px;top:255px;font-size:11px;color:#eee">▼</div>
<div class="t rd" style="left:1971px;top:309px;font-size:17px">买入45.91%</div>
<div class="t g" style="right:42px;top:309px;font-size:17px">卖出54.09%</div>
<div class="t" style="left:1971px;top:348px;font-size:19px;color:#8e8e8e">价格(USDT)</div>
<div class="t" style="right:203px;top:348px;font-size:19px;color:#8e8e8e">数量(GT)</div>
<div class="t" style="right:42px;top:348px;font-size:19px;color:#8e8e8e">总额(USDT) ⇄</div>

<div class="t ob g" style="left:1976px;top:392px">13.158</div><div class="t ob q" style="right:215px;top:392px">0.81</div><div class="t ob q" style="right:42px;top:392px">10.66</div>
<div class="t ob g" style="left:1976px;top:426px">13.157</div><div class="t ob q" style="right:215px;top:426px">0.32</div><div class="t ob q" style="right:42px;top:426px">4.21</div>
<div class="t ob g" style="left:1976px;top:460px">13.149</div><div class="t ob q" style="right:215px;top:460px">0.42</div><div class="t ob q" style="right:42px;top:460px">5.52</div>
<div class="t ob g" style="left:1976px;top:494px">13.148</div><div class="t ob q" style="right:215px;top:494px">3.56</div><div class="t ob q" style="right:42px;top:494px">46.81</div>
<div class="t ob g" style="left:1976px;top:528px">13.145</div><div class="t ob q" style="right:215px;top:528px">1.51</div><div class="t ob q" style="right:42px;top:528px">19.85</div>
<div class="t ob g" style="left:1976px;top:562px">13.140</div><div class="t ob q" style="right:215px;top:562px">406.38</div><div class="t ob q" style="right:42px;top:562px">5339.83</div>
<div class="t ob g" style="left:1976px;top:597px">13.138</div><div class="t ob q" style="right:215px;top:597px">279.18</div><div class="t ob q" style="right:42px;top:597px">3667.87</div>
<div class="t ob g" style="left:1976px;top:631px">13.136</div><div class="t ob q" style="right:215px;top:631px">1.51</div><div class="t ob q" style="right:42px;top:631px">19.84</div>
<div class="t ob g" style="left:1976px;top:665px">13.135</div><div class="t ob q" style="right:215px;top:665px">5.53</div><div class="t ob q" style="right:42px;top:665px">72.64</div>
<div class="t ob g" style="left:1976px;top:699px">13.134</div><div class="t ob q" style="right:215px;top:699px">610.75</div><div class="t ob q" style="right:42px;top:699px">8021.59</div>

<div class="t rd" style="left:1974px;top:741px;font-size:33px;font-weight:bold">13.134</div>
<div class="t rd" style="left:2089px;top:744px;font-size:26px">↑</div>
<div class="t" style="left:2128px;top:748px;font-size:20px;color:#8a8a8a">$13.134</div>
<div class="t" style="right:42px;top:747px;font-size:20px;color:#fff;font-weight:bold">更多</div>

<div class="t ob rd" style="left:1976px;top:795px">13.126</div><div class="t ob q" style="right:215px;top:795px">583.84</div><div class="t ob q" style="right:42px;top:795px">7663.48</div>
<div class="t ob rd" style="left:1976px;top:829px">13.125</div><div class="t ob q" style="right:215px;top:829px">0.47</div><div class="t ob q" style="right:42px;top:829px">6.17</div>
<div class="t ob rd" style="left:1976px;top:863px">13.121</div><div class="t ob q" style="right:215px;top:863px">0.83</div><div class="t ob q" style="right:42px;top:863px">10.89</div>
<div class="t ob rd" style="left:1976px;top:897px">13.120</div><div class="t ob q" style="right:215px;top:897px">0.21</div><div class="t ob q" style="right:42px;top:897px">2.76</div>
<div class="t ob rd" style="left:1976px;top:931px">13.119</div><div class="t ob q" style="right:215px;top:931px">443.96</div><div class="t ob q" style="right:42px;top:931px">5824.31</div>
<div class="t ob rd" style="left:1976px;top:966px">13.118</div><div class="t ob q" style="right:215px;top:966px">0.35</div><div class="t ob q" style="right:42px;top:966px">4.59</div>
<div class="t ob rd" style="left:1976px;top:1000px">13.117</div><div class="t ob q" style="right:215px;top:1000px">5.69</div><div class="t ob q" style="right:42px;top:1000px">74.64</div>
<div class="t ob rd" style="left:1976px;top:1034px">13.116</div><div class="t ob q" style="right:215px;top:1034px">3.61</div><div class="t ob q" style="right:42px;top:1034px">47.35</div>
<div class="t ob rd" style="left:1976px;top:1068px">13.115</div><div class="t ob q" style="right:215px;top:1068px">18.90</div><div class="t ob q" style="right:42px;top:1068px">247.87</div>
<div class="t ob rd" style="left:1976px;top:1102px">13.114</div><div class="t ob q" style="right:215px;top:1102px">1.45</div><div class="t ob q" style="right:42px;top:1102px">19.02</div>
</body></html>
